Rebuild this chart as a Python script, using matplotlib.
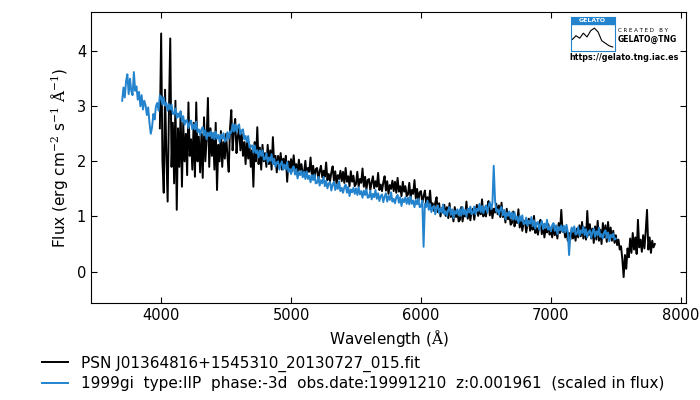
import numpy as np
import matplotlib
matplotlib.use('Agg')
import matplotlib.pyplot as plt
from matplotlib.patches import Rectangle

# wavelength grids (Angstrom), 10 A sampling
blue_start, blue_step = 3700, 10
black_start, black_step = 3990, 10

# template spectrum: 1999gi, scaled in flux (one row = 100 A)
template_flux = [
    3.10, 3.34, 3.16, 3.46, 3.58, 3.22, 3.50, 3.28, 3.20, 3.62,
    3.28, 3.36, 3.12, 3.26, 3.00, 3.20, 2.94, 3.10, 3.02, 2.84,
    2.98, 2.70, 2.50, 2.62, 2.86, 2.76, 3.00, 3.06, 2.92, 3.20,
    3.17, 3.03, 3.16, 3.01, 3.06, 2.92, 3.04, 2.94, 3.03, 2.86,
    2.86, 2.96, 2.79, 2.87, 2.80, 2.91, 2.73, 2.82, 2.66, 2.74,
    2.75, 2.60, 2.69, 2.74, 2.58, 2.67, 2.58, 2.72, 2.53, 2.58,
    2.48, 2.58, 2.62, 2.47, 2.57, 2.40, 2.52, 2.46, 2.54, 2.42,
    2.52, 2.40, 2.54, 2.41, 2.48, 2.35, 2.49, 2.41, 2.51, 2.36,
    2.38, 2.53, 2.41, 2.54, 2.52, 2.68, 2.54, 2.67, 2.54, 2.64,
    2.67, 2.49, 2.56, 2.58, 2.40, 2.46, 2.35, 2.46, 2.25, 2.27,
    2.29, 2.16, 2.29, 2.15, 2.20, 2.07, 2.20, 2.10, 2.20, 2.03,
    2.04, 2.15, 1.98, 2.07, 2.01, 2.13, 1.95, 2.05, 1.90, 1.98,
    2.00, 1.85, 1.95, 2.00, 1.85, 1.94, 1.85, 1.99, 1.81, 1.86,
    1.77, 1.87, 1.91, 1.76, 1.86, 1.69, 1.81, 1.75, 1.83, 1.71,
    1.81, 1.68, 1.82, 1.68, 1.74, 1.62, 1.75, 1.66, 1.76, 1.60,
    1.61, 1.72, 1.56, 1.66, 1.60, 1.72, 1.55, 1.65, 1.51, 1.60,
    1.62, 1.47, 1.58, 1.63, 1.48, 1.58, 1.50, 1.64, 1.46, 1.52,
    1.43, 1.53, 1.58, 1.43, 1.54, 1.37, 1.49, 1.44, 1.52, 1.41,
    1.51, 1.39, 1.53, 1.40, 1.46, 1.34, 1.47, 1.39, 1.49, 1.34,
    1.35, 1.47, 1.31, 1.41, 1.35, 1.48, 1.32, 1.42, 1.28, 1.37,
    1.40, 1.26, 1.36, 1.42, 1.27, 1.37, 1.30, 1.44, 1.27, 1.32,
    1.24, 1.35, 1.39, 1.25, 1.35, 1.19, 1.32, 1.26, 1.35, 1.23,
    1.34, 1.22, 1.36, 1.23, 1.29, 1.17, 1.30, 1.22, 1.32, 1.17,
    1.18, 1.29, 0.45, 1.23, 1.17, 1.29, 1.12, 1.23, 1.08, 1.17,
    1.19, 1.04, 1.15, 1.20, 1.06, 1.15, 1.07, 1.22, 1.04, 1.10,
    1.01, 1.12, 1.17, 1.03, 1.13, 0.97, 1.10, 1.05, 1.13, 1.02,
    1.13, 1.01, 1.17, 1.04, 1.12, 1.00, 1.14, 1.07, 1.18, 1.04,
    1.06, 1.18, 1.04, 1.14, 1.10, 1.23, 1.08, 1.19, 1.06, 1.16,
    1.20, 1.07, 1.19, 1.26, 1.13, 1.24, 1.92, 1.30, 1.09, 1.13,
    1.03, 1.13, 1.17, 1.02, 1.12, 0.95, 1.07, 1.01, 1.09, 0.97,
    1.07, 0.94, 1.08, 0.94, 1.00, 0.88, 1.01, 0.92, 1.02, 0.86,
    0.87, 0.98, 0.83, 0.92, 0.87, 0.99, 0.82, 0.93, 0.78, 0.88,
    0.90, 0.76, 0.86, 0.92, 0.77, 0.87, 0.79, 0.94, 0.76, 0.82,
    0.73, 0.84, 0.88, 0.74, 0.84, 0.68, 0.81, 0.75, 0.84, 0.72,
    0.83, 0.71, 0.85, 0.72, 0.30, 0.66, 0.80, 0.72, 0.82, 0.67,
    0.69, 0.81, 0.65, 0.75, 0.70, 0.82, 0.66, 0.77, 0.62, 0.72,
    0.75, 0.61, 0.72, 0.78, 0.63, 0.73, 0.66, 0.80, 0.63, 0.68,
    0.60, 0.71, 0.75, 0.61, 0.71, 0.55, 0.67, 0.62, 0.69, 0.58,
    0.60,
]

# observed spectrum: PSN J01364816+1545310 (first value at 3990 A)
observed_flux = [
    2.60,
    4.32, 2.00, 1.43, 3.30, 2.10, 1.27, 2.90, 4.23, 1.90, 2.70,
    1.60, 3.10, 1.12, 2.60, 1.90, 2.90, 1.54, 2.70, 2.00, 2.50,
    1.75, 3.07, 2.10, 2.40, 1.85, 2.70, 1.72, 3.07, 2.00, 2.45,
    1.80, 2.50, 1.70, 2.80, 2.00, 2.40, 3.15, 1.90, 2.60, 2.10,
    2.45, 1.85, 2.70, 1.48, 2.30, 2.00, 2.55, 1.90, 2.35, 2.05,
    2.50, 2.10, 1.81, 2.60, 2.93, 2.20, 2.55, 2.77, 2.15, 2.45,
    2.60, 2.20, 2.50, 2.10, 2.35, 1.95, 2.40, 2.05, 2.30, 1.90,
    2.20, 1.54, 2.35, 2.00, 2.62, 1.95, 2.25, 1.85, 2.30, 2.00,
    2.15, 1.90, 2.30, 1.95, 2.20, 1.85, 2.44, 1.95, 2.10, 1.80,
    2.10, 1.90, 2.15, 1.85, 2.05, 1.95, 2.10, 1.63, 2.00, 1.85,
    2.04, 1.83, 2.11, 1.85, 1.95, 1.77, 2.03, 1.84, 1.95, 1.76,
    1.79, 2.01, 1.74, 1.88, 1.81, 2.07, 1.74, 1.92, 1.69, 1.86,
    1.88, 1.67, 1.82, 1.92, 1.71, 1.83, 1.72, 1.98, 1.66, 1.77,
    1.64, 1.80, 1.91, 1.65, 1.82, 1.59, 1.75, 1.68, 1.83, 1.64,
    1.81, 1.61, 1.88, 1.63, 1.73, 1.55, 1.82, 1.63, 1.74, 1.55,
    1.59, 1.81, 1.54, 1.68, 1.61, 1.87, 1.54, 1.72, 1.49, 1.66,
    1.68, 1.48, 1.62, 1.73, 1.51, 1.64, 1.54, 1.79, 1.48, 1.58,
    1.46, 1.62, 1.73, 1.47, 1.64, 1.41, 1.57, 1.50, 1.65, 1.46,
    1.63, 1.43, 1.70, 1.45, 1.55, 1.37, 1.63, 1.45, 1.55, 1.37,
    1.40, 1.61, 1.34, 1.48, 1.41, 1.66, 1.33, 1.50, 1.28, 1.44,
    1.46, 1.24, 1.37, 1.47, 1.24, 1.35, 1.23, 1.47, 1.15, 1.24,
    1.10, 1.25, 1.35, 1.08, 1.24, 1.00, 1.15, 1.07, 1.21, 1.01,
    1.17, 0.97, 1.24, 0.99, 1.09, 0.91, 1.17, 0.99, 1.09, 0.91,
    0.94, 1.17, 0.91, 1.06, 1.00, 1.27, 0.96, 1.14, 0.93, 1.10,
    1.14, 0.94, 1.10, 1.21, 1.01, 1.14, 1.04, 1.31, 1.00, 1.12,
    1.00, 1.16, 1.28, 1.02, 1.20, 0.97, 1.14, 1.07, 1.23, 1.04,
    1.20, 0.99, 1.25, 0.99, 1.08, 0.89, 1.14, 0.95, 1.04, 0.85,
    0.88, 1.09, 0.82, 0.95, 0.88, 1.13, 0.80, 0.97, 0.74, 0.90,
    0.92, 0.71, 0.86, 0.96, 0.74, 0.87, 0.76, 1.01, 0.70, 0.80,
    0.67, 0.83, 0.94, 0.68, 0.85, 0.62, 0.78, 0.71, 0.86, 0.67,
    0.76, 0.62, 0.84, 0.66, 0.78, 0.60, 0.88, 0.70, 1.12, 0.72,
    0.80, 0.62, 0.74, 0.56, 0.70, 0.58, 0.76, 0.60, 0.74, 0.56,
    0.78, 0.62, 0.84, 0.64, 0.90, 0.60, 0.80, 0.58, 1.10, 0.66,
    0.86, 0.60, 0.78, 0.52, 0.82, 0.58, 0.92, 0.56, 0.76, 0.50,
    0.88, 0.62, 0.84, 0.54, 0.90, 0.60, 0.80, 0.56, 0.74, 0.52,
    0.66, 0.48, 0.58, 0.40, 0.46, 0.22, -0.10, 0.30, 0.05, 0.42,
    0.26, 0.60, 0.34, 0.70, 0.40, 0.62, 0.32, 0.94, 0.44, 0.58,
    0.36, 0.66, 0.42, 0.74, 1.12, 0.40, 0.62, 0.34, 0.56, 0.44,
    0.50,
]

# little spectrum drawn in the GELATO logo
logo_flux = [0.45, 0.6, 0.5, 0.7, 0.55, 0.8, 0.9, 0.75, 0.4, 0.3, 0.2, 0.15]

observed_label = "PSN J01364816+1545310_20130727_015.fit"
template_label = ("1999gi  type:IIP  phase:-3d  obs.date:19991210  "
                  "z:0.001961  (scaled in flux)")

BLUE = "#2383cd"

plt.rcParams['font.family'] = 'DejaVu Sans'
plt.rcParams['mathtext.fontset'] = 'custom'
plt.rcParams['mathtext.rm'] = 'DejaVu Serif'

wl_template = blue_start + blue_step * np.arange(len(template_flux))
wl_observed = black_start + black_step * np.arange(len(observed_flux))

fig = plt.figure(figsize=(7, 4), dpi=100)
ax = fig.add_axes([0.130, 0.2425, 0.850, 0.7275])

ax.plot(wl_observed, observed_flux, color="black", lw=1.4, label=observed_label)
ax.plot(wl_template, template_flux, color=BLUE, lw=1.4, label=template_label)

ax.set_xlim(3460, 8040)
ax.set_ylim(-0.57, 4.71)
ax.set_xticks([4000, 5000, 6000, 7000, 8000])
ax.set_yticks([0, 1, 2, 3, 4])
ax.tick_params(direction="in", top=True, right=True, length=4, labelsize=10.5)
ax.set_xlabel(r"Wavelength ($\mathrm{\AA}$)", fontsize=11)
ax.set_ylabel(r"Flux (erg cm$^{-2}$ s$^{-1}$ $\mathrm{\AA}^{-1}$)", fontsize=11)

fig.legend(loc="lower left", bbox_to_anchor=(0.06, 0.022), frameon=False,
           fontsize=11, handlelength=1.7, handletextpad=0.85,
           labelspacing=0.3, borderpad=0, borderaxespad=0)

# GELATO logo, top right
logo = fig.add_axes([0.815, 0.873, 0.063, 0.085])
logo.plot(np.arange(len(logo_flux)), logo_flux, color="black", lw=0.8)
logo.set_xlim(-0.5, len(logo_flux) - 0.5)
logo.set_ylim(0, 1.35)
logo.set_xticks([])
logo.set_yticks([])
for s in logo.spines.values():
    s.set_color(BLUE)
logo.add_patch(Rectangle((0, 0.78), 1, 0.22, transform=logo.transAxes,
                         color=BLUE))
logo.text(0.5, 0.89, "GELATO", transform=logo.transAxes, color="white",
          fontsize=4.5, fontweight="bold", ha="center", va="center")
fig.text(0.883, 0.925, "C R E A T E D   B Y", fontsize=4, ha="left", va="center")
fig.text(0.883, 0.902, "GELATO@TNG", fontsize=5.5, fontweight="bold",
         ha="left", va="center")
fig.text(0.814, 0.855, "https://gelato.tng.iac.es", fontsize=5.8,
         fontweight="bold", ha="left", va="center")

fig.savefig("out.png", dpi=100)
